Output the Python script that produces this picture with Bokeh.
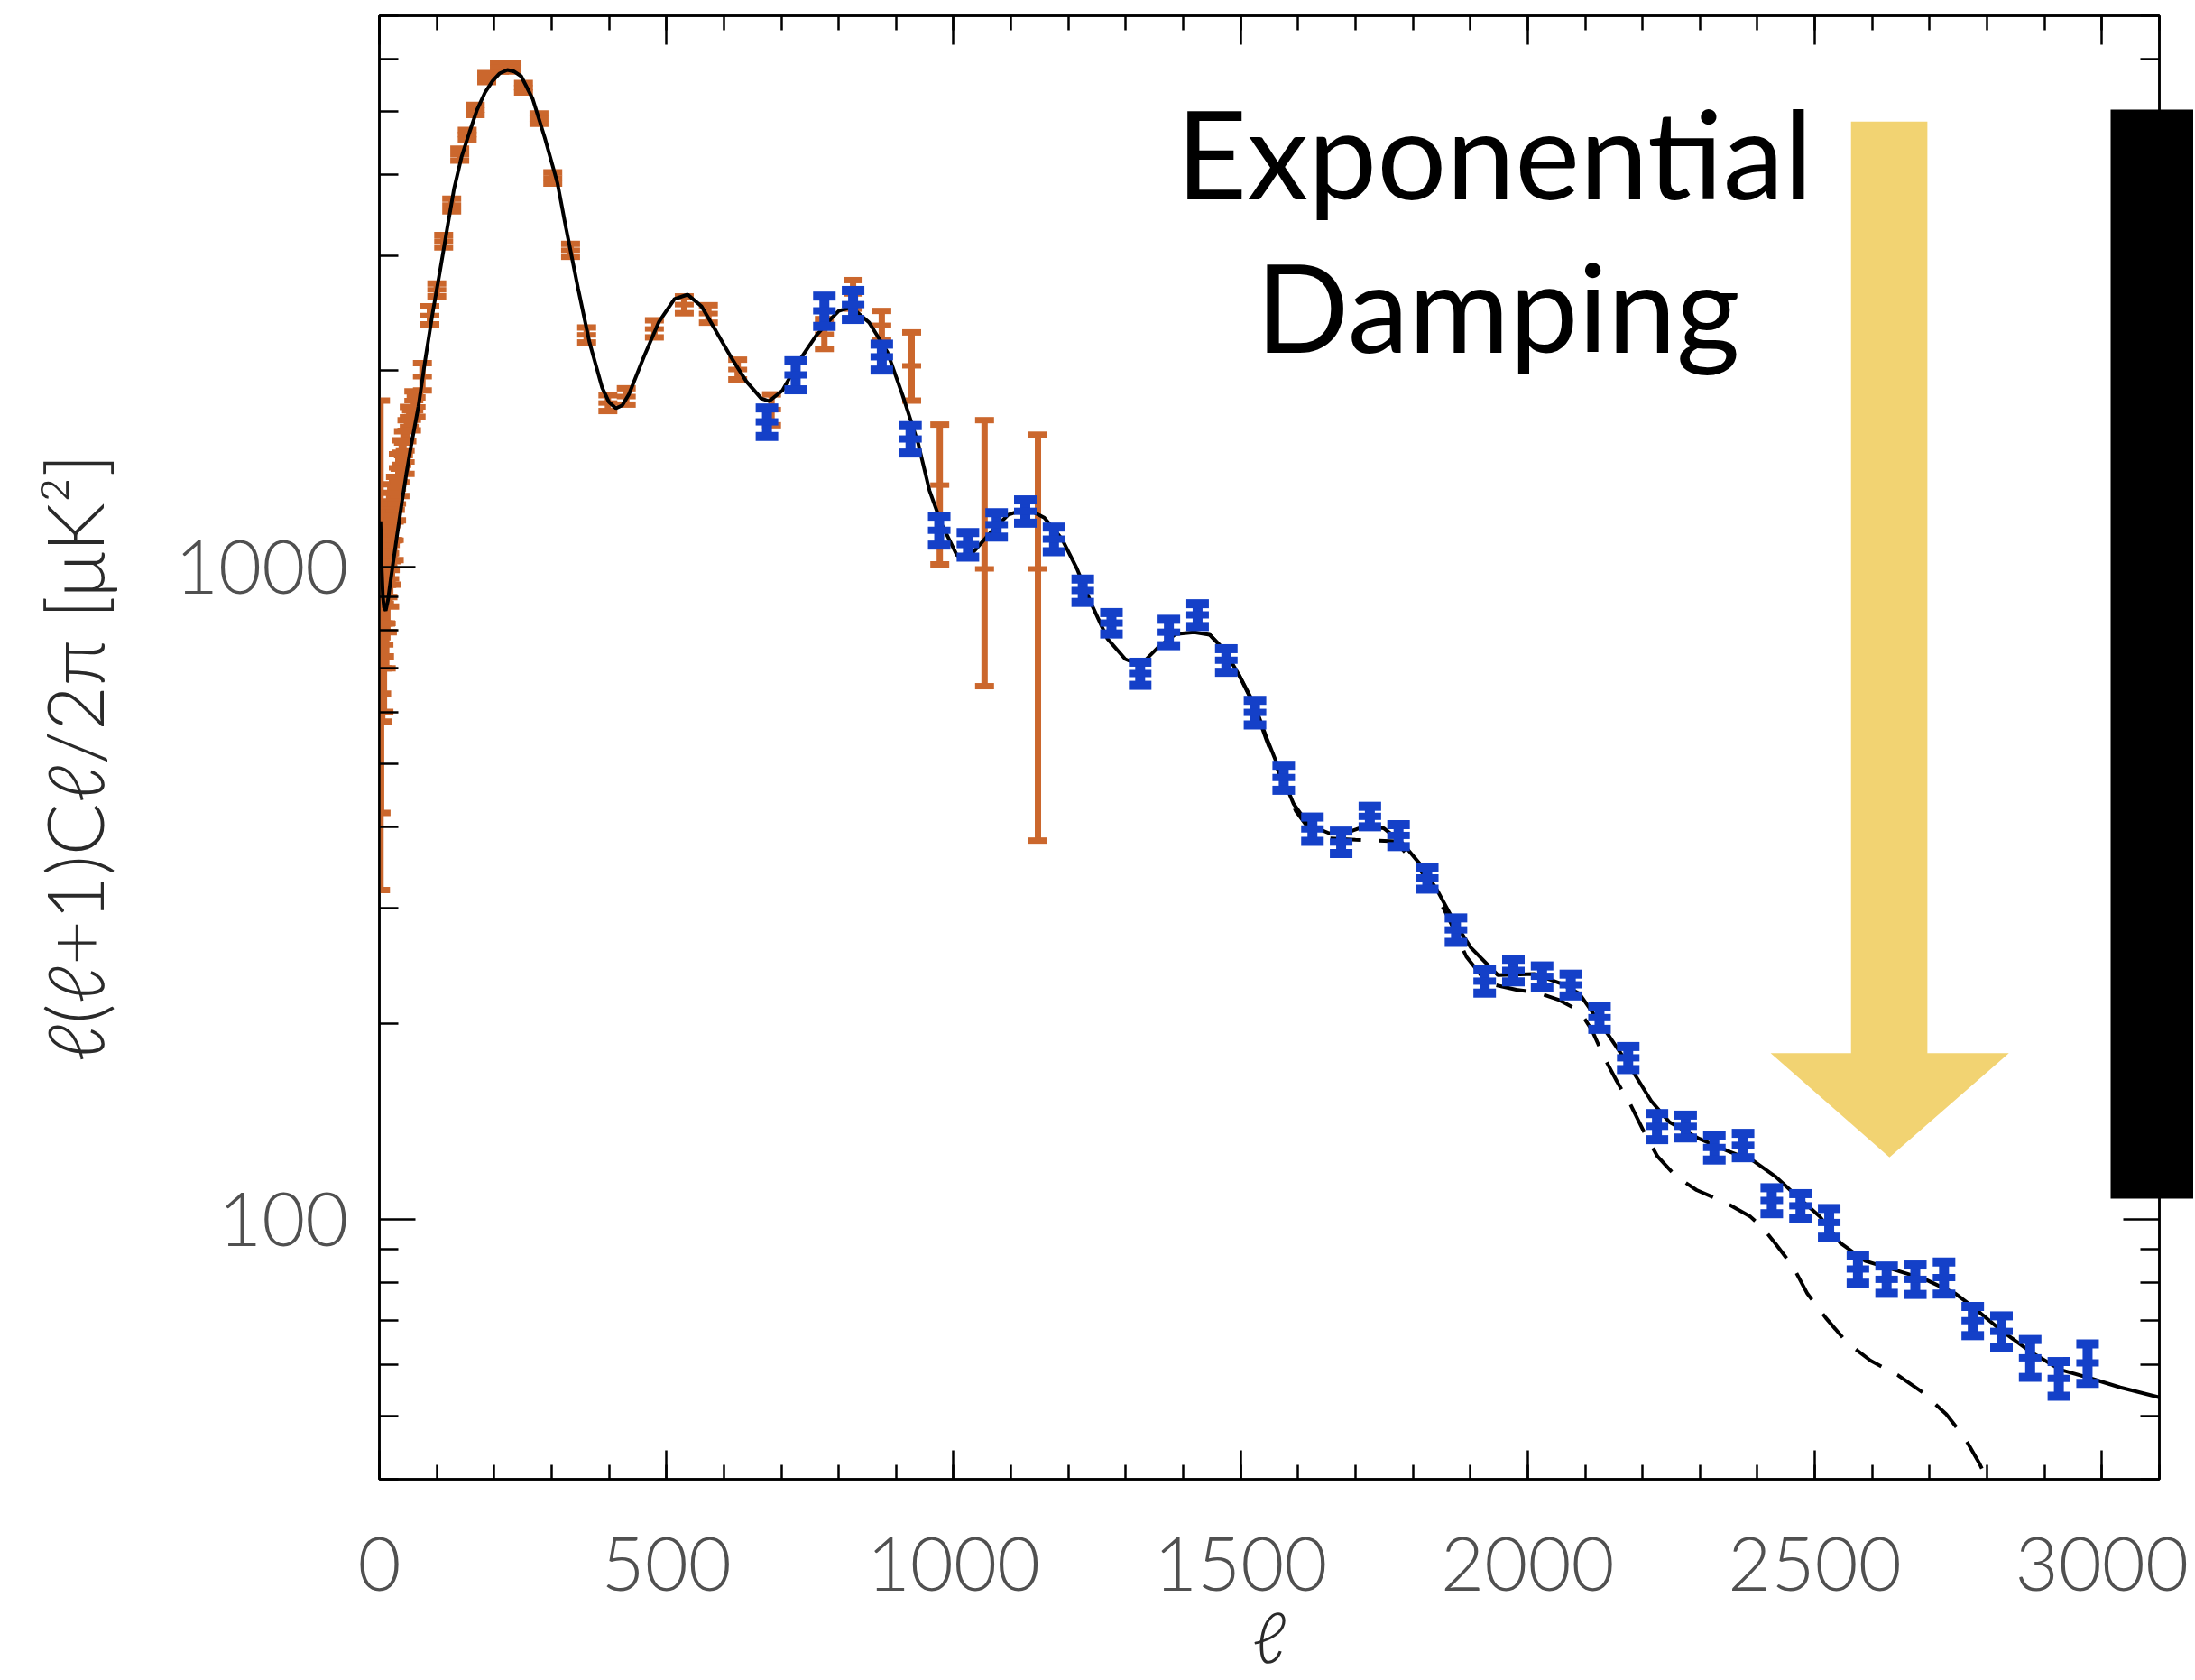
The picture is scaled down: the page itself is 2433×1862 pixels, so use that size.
import numpy as np
from bokeh.plotting import figure
from bokeh.models import (Range1d, FixedTicker, LinearAxis, LogAxis,
                          NumeralTickFormatter, Label, ColumnDataSource)
from bokeh.embed import file_html
from bokeh.resources import INLINE

# ---------------- data ----------------
# theory curve (solid): multipole ell and D_ell [muK^2]
theory_ell = [2, 4, 6, 8, 11, 15, 20, 30, 40, 47, 55, 68, 79, 92, 105, 118, 130, 143, 157, 170,
              184, 197, 209, 223, 235, 247, 267, 288, 310, 325, 346, 366, 388, 400, 412, 423, 435,
              460, 487, 514, 537, 561, 586, 613, 639, 665, 679, 702, 734, 760, 786, 800, 822, 853,
              885, 911, 938, 958, 979, 1006, 1032, 1064, 1095, 1127, 1158, 1189, 1215, 1241, 1268,
              1299, 1325, 1356, 1387, 1419, 1446, 1472, 1497, 1524, 1545, 1566, 1592, 1618, 1654,
              1686, 1717, 1749, 1780, 1812, 1843, 1874, 1901, 1948, 2011, 2058, 2090, 2142, 2179,
              2215, 2247, 2299, 2352, 2393, 2431, 2467, 2509, 2545, 2588, 2640, 2692, 2745, 2776,
              2823, 2875, 2927, 2981, 3032, 3100]
theory_val = [1176, 1000, 905, 868, 858, 890, 960, 1107, 1270, 1390, 1530, 1763, 2054, 2430, 2824,
              3300, 3798, 4250, 4642, 5020, 5340, 5560, 5709, 5782, 5750, 5655, 5222, 4554, 3884,
              3312, 2676, 2210, 1884, 1790, 1752, 1770, 1843, 2094, 2378, 2576, 2617, 2510, 2303,
              2094, 1927, 1814, 1797, 1866, 2090, 2260, 2400, 2470, 2502, 2371, 2134, 1837, 1552,
              1311, 1165, 1042, 1049, 1129, 1203, 1230, 1191, 1104, 994, 875, 777, 723, 707, 753,
              790, 795, 788, 746, 684, 616, 548, 493, 434, 403, 391, 392, 401, 398, 379, 351, 319,
              284, 261, 237, 238, 230, 222, 191, 171, 152, 141, 133, 127, 123, 116.5, 109, 101, 92,
              86.4, 83.7, 81, 77, 73.4, 67.8, 62.8, 58.9, 57.1, 55.3, 53.4]

# theory without lensing (dashed)
nolens_ell = [1446, 1472, 1497, 1524, 1545, 1566, 1596, 1620, 1654, 1700, 1769, 1800, 1830, 1862,
              1893, 1920, 1942, 1980, 2016, 2055, 2090, 2112, 2132, 2155, 2179, 2203, 2226, 2258,
              2294, 2346, 2388, 2410, 2431, 2462, 2487, 2519, 2556, 2597, 2644, 2687, 2729, 2761,
              2786, 2801, 2830]
nolens_val = [788, 746, 684, 612, 543, 486, 423, 396, 384, 382, 380, 355, 328, 290, 253, 236, 229,
              225, 223, 217, 209, 195, 178, 163, 150, 136, 125, 116.5, 111, 106, 101, 97, 92, 84.7,
              77, 70.7, 64.8, 60.8, 57.8, 54.4, 50.3, 46.3, 42.4, 39.8, 35]

# WMAP (orange) band powers with lower / upper error limits
wmap_ell = [2, 3, 4, 5, 6, 7, 8, 9, 10, 11, 12, 13, 14, 15, 16, 17, 18, 19, 20, 22, 24, 26, 28, 30,
            33, 36, 39, 42, 45, 48, 52, 56, 60, 64,
            75, 88, 100, 112, 126, 140, 153, 167, 187, 209, 231, 251, 278, 302, 333, 361, 398, 430,
            479, 531, 573, 624, 683, 775, 825, 875, 927, 976, 1054, 1147]
wmap_val = [1060, 780, 950, 820, 900, 1000, 760, 880, 1100, 950, 820, 1050, 900, 1000, 1150, 1200,
            960, 1080, 1250, 1020, 1180, 1100, 1300, 1250, 1420, 1350, 1500, 1550, 1450, 1620, 1700,
            1680, 1800, 1760,
            1958, 2430, 2660, 3160, 3590, 4290, 4600, 5020, 5630, 5840, 5840, 5430, 4870, 3950,
            3060, 2270, 1785, 1826, 2318, 2526, 2447, 2009, 1744, 2275, 2623, 2348, 2035, 1336,
            994, 994]
wmap_lo = [320, 420, 640, 580, 700, 820, 600, 730, 960, 820, 700, 940, 795, 900, 1050, 1100, 870,
           990, 1160, 940, 1100, 1025, 1225, 1180, 1350, 1285, 1435, 1485, 1390, 1560, 1640, 1620,
           1740, 1700,
           1866, 2355, 2600, 3090, 3510, 4200, 4520, 4930, 5540, 5750, 5750, 5340, 4780, 3870,
           2990, 2210, 1735, 1775, 2250, 2450, 2370, 1940, 1650, 2160, 2490, 2230, 1800, 1010,
           657, 381]
wmap_hi = [1800, 1140, 1260, 1060, 1100, 1180, 920, 1030, 1240, 1080, 940, 1160, 1005, 1100, 1250,
           1300, 1050, 1170, 1340, 1100, 1260, 1175, 1375, 1320, 1490, 1415, 1565, 1615, 1510, 1680,
           1760, 1740, 1860, 1820,
           2054, 2510, 2720, 3230, 3670, 4380, 4680, 5110, 5720, 5930, 5930, 5520, 4960, 4030,
           3130, 2330, 1835, 1880, 2390, 2600, 2520, 2080, 1840, 2400, 2754, 2470, 2290, 1654,
           1680, 1596]

# high-resolution (blue) band powers with symmetric errors
hires_ell = [675, 725, 775, 825, 875, 925, 975, 1025, 1075, 1125, 1175, 1225, 1275, 1325, 1375,
             1425, 1475, 1525, 1575, 1625, 1675, 1725, 1775, 1825, 1875, 1925, 1975, 2025, 2075,
             2125, 2175, 2225, 2275, 2325, 2375, 2425, 2475, 2525, 2575, 2625, 2675, 2725, 2775,
             2825, 2875, 2925, 2975]
hires_val = [1670, 1971, 2471, 2526, 2101, 1572, 1139, 1083, 1162, 1218, 1104, 921, 821, 687, 795,
             845, 720, 599, 476, 397, 379, 415, 388, 334, 278, 232, 241, 236, 229, 204, 177, 139,
             139, 129, 130, 107, 105, 99, 84, 81, 81, 81.5, 70, 67.4, 61.4, 57.1, 60.3]
hires_err = [84, 101, 132, 129, 96, 76, 58, 47, 50, 50, 48, 38, 31, 28, 37, 34, 30, 26, 21, 17, 15,
             15, 15, 13, 12, 9.6, 9.6, 8.8, 8.8, 8.3, 7.2, 6.4, 5.6, 5.6, 5.6, 4.9, 4.6, 5.0, 4.1,
             3.9, 4.2, 4.6, 3.6, 3.8, 4.1, 3.5, 4.2]

x_major = [0, 500, 1000, 1500, 2000, 2500, 3000]
x_minor = list(range(0, 3101, 100))
y_major = [100, 1000]
y_minor = [40, 50, 60, 70, 80, 90, 200, 300, 400, 500, 600, 700, 800, 900,
           2000, 3000, 4000, 5000, 6000, 7000]

# annotation geometry (data units)
arrow_x = [2563, 2696, 2696, 2838, 2630, 2423, 2563]
arrow_y = [4820, 4820, 180, 180, 124.6, 180, 180]
box_y_bounds = (107.6, 5026)

# ---------------- styling ----------------
ORANGE = "#CB672D"
BLUE = "#1440C8"
YELLOW = "#F2D372"
TICK_FONT = "Lato Light, Lato"

p = figure(width=2431, height=1862,
           x_range=Range1d(0, 3100), y_range=Range1d(40, 7000),
           y_axis_type="log", output_backend="svg", toolbar_location=None,
           min_border_left=420, min_border_right=38, min_border_top=17, min_border_bottom=222)
p.background_fill_color = "white"
p.border_fill_color = "white"
p.outline_line_color = "black"
p.outline_line_width = 2.5
p.xgrid.visible = False
p.ygrid.visible = False

xt = FixedTicker(ticks=x_major, minor_ticks=x_minor)
yt = FixedTicker(ticks=y_major, minor_ticks=y_minor)


def style_axis(ax, major_len, minor_len, labels, ticks):
    ax.axis_line_color = "black"
    ax.axis_line_width = 2.5
    ax.major_tick_line_color = "black"
    ax.major_tick_line_width = 2.5
    ax.minor_tick_line_color = "black"
    ax.minor_tick_line_width = 2.5
    ax.major_tick_in = major_len
    ax.major_tick_out = 0
    ax.minor_tick_in = minor_len
    ax.minor_tick_out = 0
    if labels:
        ax.major_label_text_font = TICK_FONT
        ax.major_label_text_font_size = "83px"
        ax.major_label_text_color = "#505050"
    else:
        ax.major_label_overrides = {t: "" for t in ticks}
        ax.major_label_text_font_size = "1px"
        ax.major_label_text_alpha = 0
        ax.major_label_standoff = 0


xb = p.below[0]
xb.ticker = xt
style_axis(xb, 32, 16, True, x_major)
xb.major_label_standoff = 64
xb.axis_label = "ℓ"
xb.axis_label_text_font = TICK_FONT
xb.axis_label_text_font_size = "78px"
xb.axis_label_text_font_style = "normal"
xb.axis_label_text_color = "#2a2a2a"
xb.axis_label_standoff = 0

yl = p.left[0]
yl.ticker = yt
yl.formatter = NumeralTickFormatter(format="0")
style_axis(yl, 40, 21, True, y_major)
yl.major_label_standoff = 34
yl.axis_label = "ℓ(ℓ+1)Cℓ/2π  [μK²]"
yl.axis_label_text_font = TICK_FONT
yl.axis_label_text_font_size = "86px"
yl.axis_label_text_font_style = "normal"
yl.axis_label_text_color = "#2a2a2a"
yl.axis_label_standoff = 58

xa = LinearAxis(ticker=xt)
style_axis(xa, 32, 16, False, x_major)
p.add_layout(xa, "above")

yr = LogAxis(ticker=yt)
style_axis(yr, 40, 21, False, y_major)
p.add_layout(yr, "right")

# black slide panel covering the right edge: drawn as a thick, bounded axis line
box_axis = LogAxis(ticker=FixedTicker(ticks=[]), bounds=box_y_bounds)
box_axis.axis_line_color = "black"
box_axis.axis_line_width = 108
box_axis.axis_line_cap = "butt"
box_axis.major_tick_in = 0
box_axis.major_tick_out = 0
box_axis.minor_tick_in = 0
box_axis.minor_tick_out = 0
box_axis.major_label_text_font_size = "1px"
box_axis.major_label_standoff = 0
p.add_layout(box_axis, "right")

# ---------------- data glyphs ----------------
wmap = ColumnDataSource(dict(ell=wmap_ell, val=wmap_val, lo=wmap_lo, hi=wmap_hi))
p.segment(x0="ell", y0="lo", x1="ell", y1="hi", source=wmap, line_color=ORANGE, line_width=7)
p.rect(x="ell", y="lo", width=21, height=7, width_units="screen", height_units="screen",
       source=wmap, fill_color=ORANGE, line_color=None)
p.rect(x="ell", y="hi", width=21, height=7, width_units="screen", height_units="screen",
       source=wmap, fill_color=ORANGE, line_color=None)
p.rect(x="ell", y="val", width=21, height=6, width_units="screen", height_units="screen",
       source=wmap, fill_color=ORANGE, line_color=None)

p.line(theory_ell, theory_val, line_color="black", line_width=4)
p.line(nolens_ell, nolens_val, line_color="black", line_width=4, line_dash="34 20")

hv = np.array(hires_val)
he = np.array(hires_err)
hires = ColumnDataSource(dict(ell=hires_ell, val=hires_val, lo=list(hv - he), hi=list(hv + he)))
p.segment(x0="ell", y0="lo", x1="ell", y1="hi", source=hires, line_color=BLUE, line_width=11)
p.rect(x="ell", y="lo", width=25, height=10, width_units="screen", height_units="screen",
       source=hires, fill_color=BLUE, line_color=None)
p.rect(x="ell", y="hi", width=25, height=10, width_units="screen", height_units="screen",
       source=hires, fill_color=BLUE, line_color=None)
p.rect(x="ell", y="val", width=25, height=8, width_units="screen", height_units="screen",
       source=hires, fill_color=BLUE, line_color=None)

# ---------------- annotations ----------------
p.patch(arrow_x, arrow_y, fill_color=YELLOW, line_color=None, level="overlay")

p.add_layout(Label(x=1942, y=4327, text="Exponential", text_font="Lato",
                   text_font_size="136px", text_align="center", text_baseline="alphabetic",
                   text_color="black", level="overlay"))
p.add_layout(Label(x=1948, y=2518, text="Damping", text_font="Lato",
                   text_font_size="136px", text_align="center", text_baseline="alphabetic",
                   text_color="black", level="overlay"))

open("out.html", "w").write(file_html(p, INLINE))
